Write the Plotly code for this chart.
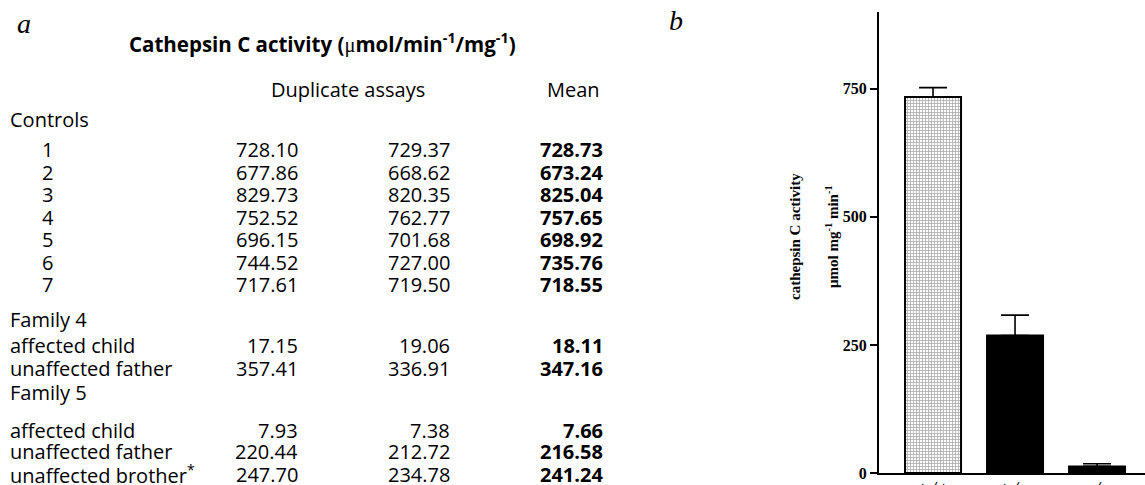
import plotly.graph_objects as go

# ---- table values: cathepsin C activity, duplicate assays and mean ----
control_ids = ["1", "2", "3", "4", "5", "6", "7"]
control_assay1 = ["728.10", "677.86", "829.73", "752.52", "696.15", "744.52", "717.61"]
control_assay2 = ["729.37", "668.62", "820.35", "762.77", "701.68", "727.00", "719.50"]
control_mean = ["728.73", "673.24", "825.04", "757.65", "698.92", "735.76", "718.55"]

family4_members = ["affected child", "unaffected father"]
family4_assay1 = ["17.15", "357.41"]
family4_assay2 = ["19.06", "336.91"]
family4_mean = ["18.11", "347.16"]

family5_members = ["affected child", "unaffected father", "unaffected brother<sup>*</sup>"]
family5_assay1 = ["7.93", "220.44", "247.70"]
family5_assay2 = ["7.38", "212.72", "234.78"]
family5_mean = ["7.66", "216.58", "241.24"]

# ---- bar chart values: mean activity (+ SEM) per genotype ----
genotypes = ["+/+", "+/\u2212", "\u2212/\u2212"]
activity_mean = [734.0, 268.3, 12.9]
activity_sem = [18.3, 40.0, 5.2]
y_ticks = [0, 250, 500, 750]

W, H = 1145, 485
PL, PR, PT, PB = 879, 1145, 12, 473  # plot area in pixels


def xp(px):
    return (px - PL) / (PR - PL)


def yp(py):
    return (PB - py) / (PB - PT)


SANS = "Open Sans"
SERIF = "Liberation Serif"
TXT = 20

fig = go.Figure()

fig.add_trace(go.Bar(
    x=genotypes,
    y=activity_mean,
    width=0.683,
    marker=dict(
        color=["#a0a0a0", "#000000", "#000000"],
        line=dict(color="#000000", width=2),
        pattern=dict(shape=["+", "", ""], size=3, solidity=0.4,
                     fgcolor="#404040", bgcolor="#e4e4e4", fillmode="replace"),
    ),
    error_y=dict(type="data", symmetric=False, array=activity_sem,
                 arrayminus=[0, 0, 0], color="#000000", thickness=1.6, width=14),
    showlegend=False,
))

annotations = []


def add_text(text, x, y, xanchor="left", size=TXT, family=SANS, bold=False, italic=False):
    annotations.append(dict(
        text=text, x=xp(x), y=yp(y), xref="paper", yref="paper",
        xanchor=xanchor, yanchor="middle", showarrow=False,
        font=dict(family=family, size=size, color="#000000",
                  weight="bold" if bold else "normal",
                  style="italic" if italic else "normal"),
    ))


# panel letters
add_text("a", 15, 23, size=28, family=SERIF, italic=True)
add_text("b", 667, 21, size=28, family=SERIF, italic=True)

# table header
add_text("Cathepsin C activity (<span style=\"font-family:Liberation Serif;font-weight:normal\">\u03bc</span>mol/min<sup>-1</sup>/mg<sup>-1</sup>)",
         323, 43, xanchor="center", size=20.5, bold=True)
add_text("Duplicate assays", 348, 89, xanchor="center")
add_text("Mean", 573, 89, xanchor="center")

COL1, COL2, COLM = 300, 452, 605

add_text("Controls", 8, 120)
ctrl_rows = [149.5, 172, 194.5, 217, 239.5, 262, 284.5]
for i, cid in enumerate(control_ids):
    y = ctrl_rows[i]
    add_text(cid, 40, y)
    add_text(control_assay1[i], COL1, y, xanchor="right")
    add_text(control_assay2[i], COL2, y, xanchor="right")
    add_text(control_mean[i], COLM, y, xanchor="right", bold=True)

add_text("Family 4", 8, 319.5)
for i, name in enumerate(family4_members):
    y = [345, 368.5][i]
    add_text(name, 8, y)
    add_text(family4_assay1[i], COL1, y, xanchor="right")
    add_text(family4_assay2[i], COL2, y, xanchor="right")
    add_text(family4_mean[i], COLM, y, xanchor="right", bold=True)

add_text("Family 5", 8, 392.5)
for i, name in enumerate(family5_members):
    y = [430, 451, 474][i]
    add_text(name, 8, y)
    add_text(family5_assay1[i], COL1, y, xanchor="right")
    add_text(family5_assay2[i], COL2, y, xanchor="right")
    add_text(family5_mean[i], COLM, y, xanchor="right", bold=True)

# y-axis title, two rotated lines
for text, x in [("cathepsin C activity", 795),
                ("\u03bcmol mg<sup>-1</sup> min<sup>-1</sup>", 832)]:
    annotations.append(dict(
        text=text, x=xp(x), y=yp(237), xref="paper", yref="paper",
        xanchor="center", yanchor="middle", textangle=-90, showarrow=False,
        font=dict(family=SERIF, size=15, color="#000000", weight="bold"),
    ))

# genotype labels under the bars (run off the lower edge)
for g in genotypes:
    annotations.append(dict(
        text=g, x=g, y=0, xref="x", yref="y", yshift=-1,
        xanchor="center", yanchor="top", showarrow=False,
        font=dict(family=SERIF, size=22, color="#000000", style="italic"),
    ))

fig.update_layout(
    width=W, height=H,
    margin=dict(l=PL, r=W - PR, t=PT, b=H - PB),
    paper_bgcolor="white", plot_bgcolor="white",
    annotations=annotations,
    bargap=0.3,
    xaxis=dict(range=[-0.659, 2.585], showticklabels=False, ticks="",
               showline=True, linecolor="#000000", linewidth=2,
               showgrid=False, zeroline=False, fixedrange=True),
    yaxis=dict(range=[0, 900], tickvals=y_ticks, ticks="outside", ticklen=7,
               tickwidth=1.6, tickcolor="#000000",
               tickfont=dict(family=SERIF, size=16, color="#000000", weight="bold"),
               showline=True, linecolor="#000000", linewidth=2,
               showgrid=False, zeroline=False, fixedrange=True),
)

fig.write_html("out.html")
